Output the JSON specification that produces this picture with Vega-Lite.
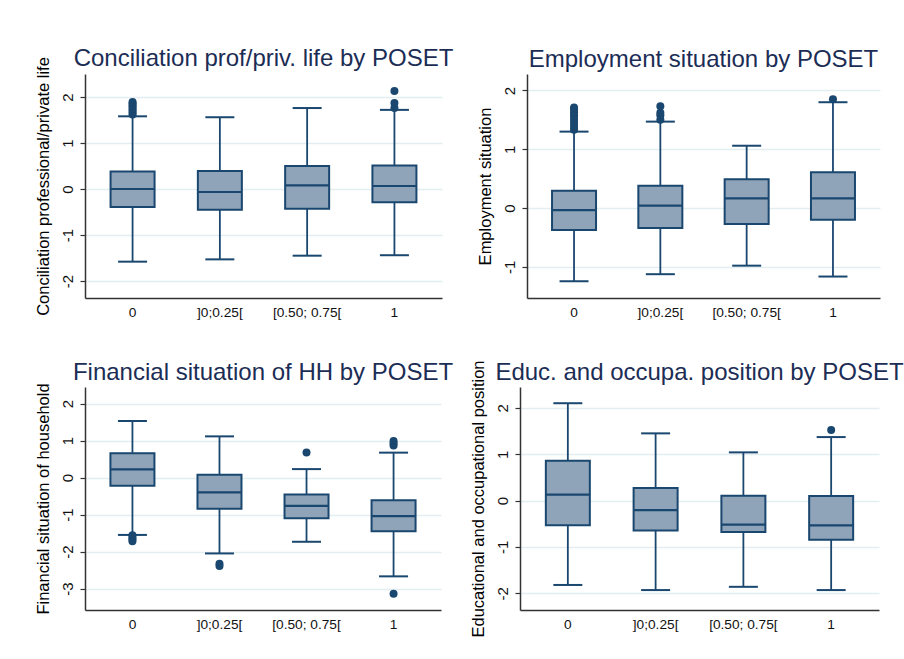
{
  "$schema": "https://vega.github.io/schema/vega-lite/v6.json",
  "background": "white",
  "padding": {"left": 34, "top": 46, "right": 0, "bottom": 0},
  "config": {
    "font": "Liberation Sans",
    "view": {"stroke": null},
    "title": {"fontSize": 24, "fontWeight": "normal", "color": "#1c2d55", "anchor": "middle", "baseline": "alphabetic", "frame": "group", "font": "Liberation Sans"},
    "axisY": {"domainColor": "#333333", "domainWidth": 1.5, "tickColor": "#333333", "tickSize": 5, "tickWidth": 1.2, "labelAngle": -90, "labelAlign": "center", "labelBaseline": "bottom", "labelPadding": 5, "labelFontSize": 15, "labelColor": "#111111", "labelFont": "Liberation Sans", "titleFont": "Liberation Sans", "titleFontSize": 16.5, "titleFontWeight": "normal", "titleColor": "#000000", "titlePadding": 9, "grid": true, "gridColor": "#e4eef0", "gridWidth": 1.5, "labelExpr": "'' + datum.value"},
    "axisX": {"domainColor": "#333333", "domainWidth": 1.5, "ticks": false, "labelPadding": 7, "labelFontSize": 13.7, "labelColor": "#111111", "labelFont": "Liberation Sans", "labelAngle": 0, "grid": false, "title": null}
  },
  "spacing": 40,
  "vconcat": [
    {
      "spacing": 85,
      "bounds": "flush",
      "hconcat": [
        {
          "width": 357, "height": 224,
          "title": {"text": "Conciliation prof/priv. life by POSET", "offset": -14},
          "data": {"values": [
            {"cat": "0", "lo": -1.58, "q1": -0.39, "med": 0.0, "q3": 0.38, "hi": 1.58},
            {"cat": "]0;0.25[", "lo": -1.53, "q1": -0.45, "med": -0.065, "q3": 0.39, "hi": 1.56},
            {"cat": "[0.50; 0.75[", "lo": -1.45, "q1": -0.43, "med": 0.08, "q3": 0.50, "hi": 1.76},
            {"cat": "1", "lo": -1.44, "q1": -0.29, "med": 0.065, "q3": 0.51, "hi": 1.72}
          ]},
          "encoding": {"x": {"field": "cat", "type": "nominal", "sort": null, "scale": {"domain": ["0", "]0;0.25[", "[0.50; 0.75[", "1"], "paddingInner": 0, "paddingOuter": 0.045}, "title": null}},
          "layer": [
            {"mark": {"type": "rule", "color": "#1a476f", "strokeWidth": 1.8}, "encoding": {"y": {"field": "lo", "type": "quantitative", "scale": {"domain": [-2.37, 2.5], "nice": false, "zero": false}, "axis": {"values": [-2, -1, 0, 1, 2]}, "title": "Conciliation professional/private life"}, "y2": {"field": "hi"}}},
            {"mark": {"type": "bar", "width": 44, "fill": "#8fa4b9", "stroke": "#1a476f", "strokeWidth": 2}, "encoding": {"y": {"field": "q1", "type": "quantitative", "title": "Conciliation professional/private life"}, "y2": {"field": "q3"}}},
            {"mark": {"type": "tick", "size": 44, "thickness": 2.2, "color": "#1a476f", "opacity": 1}, "encoding": {"y": {"field": "med", "type": "quantitative", "title": "Conciliation professional/private life"}}},
            {"mark": {"type": "tick", "size": 29, "thickness": 2, "color": "#1a476f", "opacity": 1}, "encoding": {"y": {"field": "lo", "type": "quantitative", "title": "Conciliation professional/private life"}}},
            {"mark": {"type": "tick", "size": 29, "thickness": 2, "color": "#1a476f", "opacity": 1}, "encoding": {"y": {"field": "hi", "type": "quantitative", "title": "Conciliation professional/private life"}}},
            {"data": {"values": [
              {"cat": "0", "v": 1.62}, {"cat": "0", "v": 1.66}, {"cat": "0", "v": 1.70}, {"cat": "0", "v": 1.74}, {"cat": "0", "v": 1.78}, {"cat": "0", "v": 1.82}, {"cat": "0", "v": 1.86}, {"cat": "0", "v": 1.89},
              {"cat": "1", "v": 1.76}, {"cat": "1", "v": 1.87}, {"cat": "1", "v": 2.13}
            ]}, "mark": {"type": "circle", "size": 64, "color": "#1a476f", "opacity": 1}, "encoding": {"y": {"field": "v", "type": "quantitative", "title": "Conciliation professional/private life"}}}
          ]
        },
        {
          "width": 353, "height": 224,
          "title": {"text": "Employment situation by POSET", "offset": 2},
          "data": {"values": [
            {"cat": "0", "lo": -1.245, "q1": -0.375, "med": -0.034, "q3": 0.295, "hi": 1.30},
            {"cat": "]0;0.25[", "lo": -1.125, "q1": -0.34, "med": 0.04, "q3": 0.38, "hi": 1.47},
            {"cat": "[0.50; 0.75[", "lo": -0.98, "q1": -0.27, "med": 0.165, "q3": 0.49, "hi": 1.06},
            {"cat": "1", "lo": -1.165, "q1": -0.20, "med": 0.165, "q3": 0.61, "hi": 1.80}
          ]},
          "encoding": {"x": {"field": "cat", "type": "nominal", "sort": null, "scale": {"domain": ["0", "]0;0.25[", "[0.50; 0.75[", "1"], "paddingInner": 0, "paddingOuter": 0.045}, "title": null}},
          "layer": [
            {"mark": {"type": "rule", "color": "#1a476f", "strokeWidth": 1.8}, "encoding": {"y": {"field": "lo", "type": "quantitative", "scale": {"domain": [-1.53, 2.28], "nice": false, "zero": false}, "axis": {"values": [-1, 0, 1, 2]}, "title": "Employment situation"}, "y2": {"field": "hi"}}},
            {"mark": {"type": "bar", "width": 44, "fill": "#8fa4b9", "stroke": "#1a476f", "strokeWidth": 2}, "encoding": {"y": {"field": "q1", "type": "quantitative", "title": "Employment situation"}, "y2": {"field": "q3"}}},
            {"mark": {"type": "tick", "size": 44, "thickness": 2.2, "color": "#1a476f", "opacity": 1}, "encoding": {"y": {"field": "med", "type": "quantitative", "title": "Employment situation"}}},
            {"mark": {"type": "tick", "size": 29, "thickness": 2, "color": "#1a476f", "opacity": 1}, "encoding": {"y": {"field": "lo", "type": "quantitative", "title": "Employment situation"}}},
            {"mark": {"type": "tick", "size": 29, "thickness": 2, "color": "#1a476f", "opacity": 1}, "encoding": {"y": {"field": "hi", "type": "quantitative", "title": "Employment situation"}}},
            {"data": {"values": [
              {"cat": "0", "v": 1.33}, {"cat": "0", "v": 1.38}, {"cat": "0", "v": 1.43}, {"cat": "0", "v": 1.48}, {"cat": "0", "v": 1.53}, {"cat": "0", "v": 1.58}, {"cat": "0", "v": 1.63}, {"cat": "0", "v": 1.68}, {"cat": "0", "v": 1.71},
              {"cat": "]0;0.25[", "v": 1.50}, {"cat": "]0;0.25[", "v": 1.58}, {"cat": "]0;0.25[", "v": 1.62}, {"cat": "]0;0.25[", "v": 1.73},
              {"cat": "1", "v": 1.85}
            ]}, "mark": {"type": "circle", "size": 64, "color": "#1a476f", "opacity": 1}, "encoding": {"y": {"field": "v", "type": "quantitative", "title": "Employment situation"}}}
          ]
        }
      ]
    },
    {
      "spacing": 79,
      "bounds": "flush",
      "hconcat": [
        {
          "width": 356, "height": 223,
          "title": {"text": "Financial situation of HH by POSET", "offset": -2},
          "data": {"values": [
            {"cat": "0", "lo": -1.55, "q1": -0.22, "med": 0.22, "q3": 0.66, "hi": 1.53},
            {"cat": "]0;0.25[", "lo": -2.05, "q1": -0.845, "med": -0.40, "q3": 0.08, "hi": 1.115},
            {"cat": "[0.50; 0.75[", "lo": -1.735, "q1": -1.10, "med": -0.765, "q3": -0.46, "hi": 0.23},
            {"cat": "1", "lo": -2.67, "q1": -1.45, "med": -1.04, "q3": -0.61, "hi": 0.675}
          ]},
          "encoding": {"x": {"field": "cat", "type": "nominal", "sort": null, "scale": {"domain": ["0", "]0;0.25[", "[0.50; 0.75[", "1"], "paddingInner": 0, "paddingOuter": 0.045}, "title": null}},
          "layer": [
            {"mark": {"type": "rule", "color": "#1a476f", "strokeWidth": 1.8}, "encoding": {"y": {"field": "lo", "type": "quantitative", "scale": {"domain": [-3.58, 2.45], "nice": false, "zero": false}, "axis": {"values": [-3, -2, -1, 0, 1, 2]}, "title": "Financial situation of household"}, "y2": {"field": "hi"}}},
            {"mark": {"type": "bar", "width": 44, "fill": "#8fa4b9", "stroke": "#1a476f", "strokeWidth": 2}, "encoding": {"y": {"field": "q1", "type": "quantitative", "title": "Financial situation of household"}, "y2": {"field": "q3"}}},
            {"mark": {"type": "tick", "size": 44, "thickness": 2.2, "color": "#1a476f", "opacity": 1}, "encoding": {"y": {"field": "med", "type": "quantitative", "title": "Financial situation of household"}}},
            {"mark": {"type": "tick", "size": 29, "thickness": 2, "color": "#1a476f", "opacity": 1}, "encoding": {"y": {"field": "lo", "type": "quantitative", "title": "Financial situation of household"}}},
            {"mark": {"type": "tick", "size": 29, "thickness": 2, "color": "#1a476f", "opacity": 1}, "encoding": {"y": {"field": "hi", "type": "quantitative", "title": "Financial situation of household"}}},
            {"data": {"values": [
              {"cat": "0", "v": -1.56}, {"cat": "0", "v": -1.62}, {"cat": "0", "v": -1.67}, {"cat": "0", "v": -1.72},
              {"cat": "]0;0.25[", "v": -2.33}, {"cat": "]0;0.25[", "v": -2.39},
              {"cat": "[0.50; 0.75[", "v": 0.68},
              {"cat": "1", "v": 0.87}, {"cat": "1", "v": 0.93}, {"cat": "1", "v": 0.99}, {"cat": "1", "v": -3.14}
            ]}, "mark": {"type": "circle", "size": 64, "color": "#1a476f", "opacity": 1}, "encoding": {"y": {"field": "v", "type": "quantitative", "title": "Financial situation of household"}}}
          ]
        },
        {
          "width": 359, "height": 223,
          "title": {"text": "Educ. and occupa. position by POSET", "offset": -25},
          "data": {"values": [
            {"cat": "0", "lo": -1.82, "q1": -0.53, "med": 0.13, "q3": 0.86, "hi": 2.10},
            {"cat": "]0;0.25[", "lo": -1.93, "q1": -0.645, "med": -0.205, "q3": 0.27, "hi": 1.45},
            {"cat": "[0.50; 0.75[", "lo": -1.86, "q1": -0.68, "med": -0.52, "q3": 0.105, "hi": 1.04},
            {"cat": "1", "lo": -1.93, "q1": -0.845, "med": -0.535, "q3": 0.10, "hi": 1.37}
          ]},
          "encoding": {"x": {"field": "cat", "type": "nominal", "sort": null, "scale": {"domain": ["0", "]0;0.25[", "[0.50; 0.75[", "1"], "paddingInner": 0, "paddingOuter": 0.045}, "title": null}},
          "layer": [
            {"mark": {"type": "rule", "color": "#1a476f", "strokeWidth": 1.8}, "encoding": {"y": {"field": "lo", "type": "quantitative", "scale": {"domain": [-2.36, 2.45], "nice": false, "zero": false}, "axis": {"values": [-2, -1, 0, 1, 2]}, "title": "Educational and occupational position"}, "y2": {"field": "hi"}}},
            {"mark": {"type": "bar", "width": 44, "fill": "#8fa4b9", "stroke": "#1a476f", "strokeWidth": 2}, "encoding": {"y": {"field": "q1", "type": "quantitative", "title": "Educational and occupational position"}, "y2": {"field": "q3"}}},
            {"mark": {"type": "tick", "size": 44, "thickness": 2.2, "color": "#1a476f", "opacity": 1}, "encoding": {"y": {"field": "med", "type": "quantitative", "title": "Educational and occupational position"}}},
            {"mark": {"type": "tick", "size": 29, "thickness": 2, "color": "#1a476f", "opacity": 1}, "encoding": {"y": {"field": "lo", "type": "quantitative", "title": "Educational and occupational position"}}},
            {"mark": {"type": "tick", "size": 29, "thickness": 2, "color": "#1a476f", "opacity": 1}, "encoding": {"y": {"field": "hi", "type": "quantitative", "title": "Educational and occupational position"}}},
            {"data": {"values": [
              {"cat": "1", "v": 1.52}
            ]}, "mark": {"type": "circle", "size": 64, "color": "#1a476f", "opacity": 1}, "encoding": {"y": {"field": "v", "type": "quantitative", "title": "Educational and occupational position"}}}
          ]
        }
      ]
    }
  ]
}
